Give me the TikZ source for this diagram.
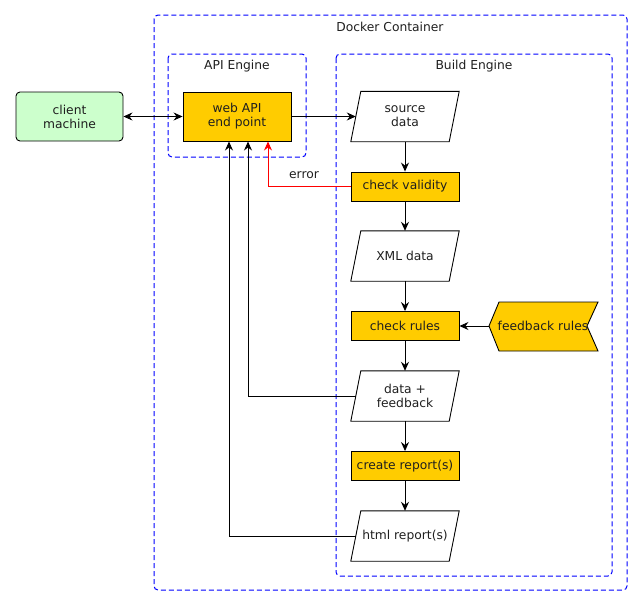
\documentclass[tikz,border=0pt]{standalone}
\usepackage{fontspec}
\setmainfont{DejaVu Sans}
\usetikzlibrary{arrows.meta,calc}
\definecolor{yel}{HTML}{FFCC00}
\definecolor{grn}{HTML}{CCFFCC}
\tikzset{
  tip/.tip={Stealth[length=9pt,width=8pt,inset=3pt]},
  txt/.style={font=\fontsize{12.3}{14}\selectfont, align=center, text=black!88},
  grp/.style={draw=blue, dashed, dash pattern=on 5pt off 3pt, line width=1pt, rounded corners=4pt},
  proc/.style={txt, draw, line width=0.9pt, fill=yel, minimum width=108pt, minimum height=29pt, inner sep=0pt},
  client/.style={txt, draw, line width=0.9pt, fill=grn, rounded corners=4pt, minimum width=107pt, minimum height=49pt, inner sep=0pt},
  para/.style={txt, minimum width=98pt, minimum height=50pt, inner sep=0pt},
  conn/.style={line width=0.9pt, -tip},
}
\newcommand{\drawpara}[1]{%
  \draw[line width=0.9pt] ($(#1.north west)+(5,0)$) -- ($(#1.north east)+(5,0)$) -- ($(#1.south east)+(-5,0)$) -- ($(#1.south west)+(-5,0)$) -- cycle;}
\begin{document}
\begin{tikzpicture}[x=1pt,y=-1pt]
\useasboundingbox (0,0) rectangle (642,606);
% groups
\draw[grp] (154,15) rectangle (627,590);
\node[txt] (tdock) at (390,27) {Docker Container};
\draw[grp] (168,54) rectangle (306,157);
\node[txt] (tapi) at (237,66) {API Engine};
\draw[grp] (336,54) rectangle (612,576);
\node[txt] (tbuild) at (474,66) {Build Engine};
% nodes
\node[client] (cli) at (69.5,116.5) {client\\machine};
\node[proc, minimum height=49pt] (api) at (237,116.5) {web API\\end point};
\node[para] (src) at (405,116.5) {source\\data};
\node[proc] (chk) at (405,186.5) {check validity};
\node[para] (xml) at (405,256) {XML data};
\node[proc] (rules) at (405,326) {check rules};
\node[para] (fb) at (405,396) {data +\\feedback};
\node[proc] (rep) at (405,466) {create report(s)};
\node[para] (html) at (405,536) {html report(s)};
\drawpara{src}\drawpara{xml}\drawpara{fb}\drawpara{html}
\draw[line width=0.9pt, fill=yel] (489,326) -- (499,302) -- (598,302) -- (587,326) -- (598,351) -- (499,351) -- cycle;
\node[txt] (fbr) at (543,326) {feedback rules};
\coordinate (fbrw) at (489,326);
% connectors
\draw[conn, tip-tip] (cli.east) -- (api.west);
\draw[conn] (api.east) -- (src.west);
\draw[conn] (src) -- (chk);
\draw[conn] (chk) -- (xml);
\draw[conn] (xml) -- (rules);
\draw[conn] (rules) -- (fb);
\draw[conn] (fb) -- (rep);
\draw[conn] (rep) -- (html);
\draw[conn] (fbrw) -- (rules.east);
\draw[conn, red] (chk.west) -| (268,141.5);
\node[txt] (err) at (304,175) {error};
\draw[conn] (fb.west) -| (248,141.5);
\draw[conn] (html.west) -| (229,141.5);
\end{tikzpicture}
\end{document}
